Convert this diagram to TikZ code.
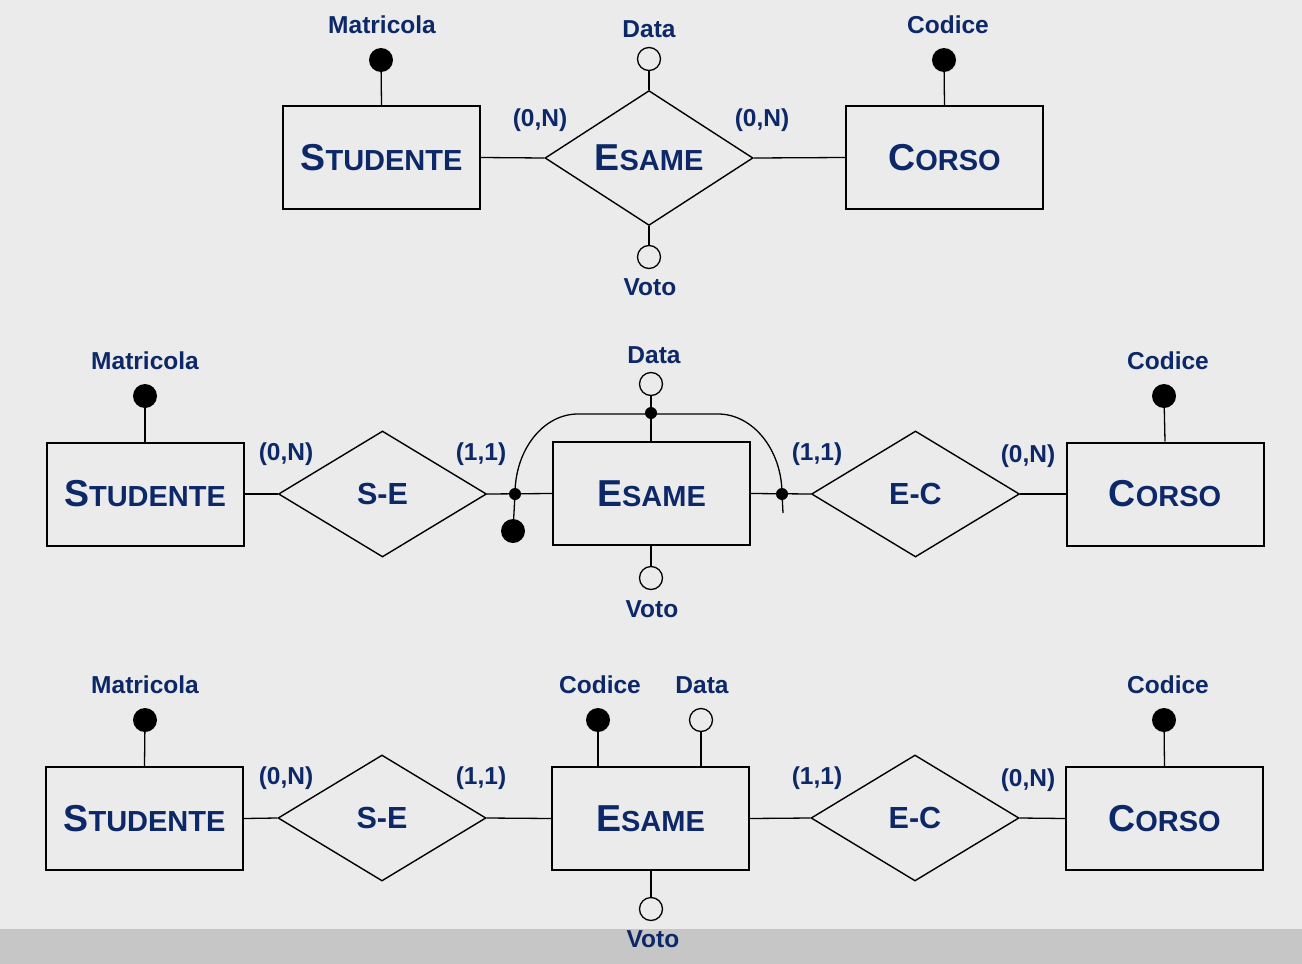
\documentclass[tikz,border=0pt]{standalone}
\usepackage{fontspec}
\setmainfont{Liberation Sans}
\usetikzlibrary{shapes.geometric}
\definecolor{navy}{RGB}{12,40,104}
\definecolor{bg}{RGB}{235,235,235}
\definecolor{band}{RGB}{198,198,198}
\newcommand{\scname}[2]{\raisebox{-4pt}{{\fontsize{37.5}{40}\selectfont #1}{\fontsize{29}{30}\selectfont #2}}}
\begin{document}
\begin{tikzpicture}[x=1pt,y=-1pt,
  every node/.style={text=navy},
  ent/.style={draw=black, line width=2pt, minimum width=197pt, minimum height=103pt, inner sep=0pt, font=\bfseries},
  rel/.style={diamond, draw=black, line width=1.4pt, minimum width=208pt, minimum height=126pt, inner sep=0pt, font=\bfseries\fontsize{30.5}{32}\selectfont},
  keyattr/.style={circle, fill=black, minimum size=24pt, inner sep=0pt},
  attr/.style={circle, draw=black, line width=1.3pt, fill=bg, minimum size=23pt, inner sep=0pt},
  dotn/.style={circle, fill=black, minimum size=12pt, inner sep=0pt},
  lbl/.style={font=\bfseries\fontsize{24.5}{26}\selectfont, inner sep=0pt},
  link/.style={line width=1.3pt, draw=black}]
\fill[bg] (0,0) rectangle (1302,964);
\fill[band] (0,929) rectangle (1302,964);
\useasboundingbox (0,0) rectangle (1302,964);

% ---------- top row ----------
\node[ent] (st1) at (381.5,157.5) {\scname{S}{TUDENTE}};
\node[rel] (es1) at (649,158) {\scname{E}{SAME}};
\node[ent] (co1) at (944.5,157.5) {\scname{C}{ORSO}};
\node[keyattr] (ma1c) at (381,60) {};
\node[attr] (da1c) at (649,59) {};
\node[attr] (vo1c) at (649,257) {};
\node[keyattr] (cd1c) at (944,60) {};
\node[lbl] (ma1t) at (382,25) {Matricola};
\node[lbl] (da1t) at (649,29) {Data};
\node[lbl] (vo1t) at (650,287) {Voto};
\node[lbl] (cd1t) at (948,25) {Codice};
\node[lbl] (c1a) at (540,120) {(0,N)};
\node[lbl] (c1b) at (762,120) {(0,N)};
\draw[link] (st1.east) -- (es1.west);
\draw[link] (es1.east) -- (co1.west);
\draw[link] (ma1c) -- (st1.north);
\draw[link] (da1c) -- (es1.north);
\draw[link] (vo1c) -- (es1.south);
\draw[link] (cd1c) -- (co1.north);

% ---------- middle row ----------
\node[ent] (st2) at (145,494) {\scname{S}{TUDENTE}};
\node[rel] (se2) at (382.5,494) {\raisebox{-1pt}{S-E}};
\node[ent] (es2) at (651.5,493.5) {\scname{E}{SAME}};
\node[rel] (ec2) at (915.5,494) {\raisebox{-1pt}{E-C}};
\node[ent] (co2) at (1165,494) {\scname{C}{ORSO}};
\node[keyattr] (ma2c) at (145,396) {};
\node[attr] (da2c) at (651,384) {};
\node[attr] (vo2c) at (651,578) {};
\node[keyattr] (cd2c) at (1164,396) {};
\node[lbl] (ma2t) at (145,361) {Matricola};
\node[lbl] (da2t) at (654,355) {Data};
\node[lbl] (vo2t) at (652,609) {Voto};
\node[lbl] (cd2t) at (1168,361) {Codice};
\node[lbl] (c2a) at (286,454) {(0,N)};
\node[lbl] (c2b) at (481,454) {(1,1)};
\node[lbl] (c2c) at (817,454) {(1,1)};
\node[lbl] (c2d) at (1028,456) {(0,N)};
\draw[link] (st2.east) -- (se2.west);
\draw[link] (se2.east) -- (es2.west);
\draw[link] (es2.east) -- (ec2.west);
\draw[link] (ec2.east) -- (co2.west);
\draw[link] (ma2c) -- (st2.north);
\draw[link] (cd2c) -- (co2.north);
\draw[link] (da2c) -- (da2c |- es2.north);
\draw[link] (vo2c) -- (vo2c |- es2.south);
% external identifier
\coordinate (tl) at (578,414);
\coordinate (tr) at (718,414);
\coordinate (tail) at (783,513);
\node[dotn] (dl) at (515,494) {};
\node[dotn] (dr) at (782,494) {};
\node[dotn] (dt) at (651,413) {};
\node[keyattr] (idk) at (513,531) {};
\draw[link] (dl.center) .. controls (515,450) and (543,414) .. (tl) -- (tr)
  .. controls (753,414) and (782,450) .. (dr.center) -- (tail);
\draw[link] (dl.center) -- (idk.center);

% ---------- bottom row ----------
\node[ent] (st3) at (144.5,818.5) {\scname{S}{TUDENTE}};
\node[rel] (se3) at (382,818) {\raisebox{-1pt}{S-E}};
\node[ent] (es3) at (650.5,818.5) {\scname{E}{SAME}};
\node[rel] (ec3) at (915,818) {\raisebox{-1pt}{E-C}};
\node[ent] (co3) at (1164.5,818.5) {\scname{C}{ORSO}};
\node[keyattr] (ma3c) at (145,720) {};
\node[keyattr] (cd3c) at (598,720) {};
\node[attr] (da3c) at (701,720) {};
\node[attr] (vo3c) at (651,909) {};
\node[keyattr] (cc3c) at (1164,720) {};
\node[lbl] (ma3t) at (145,685) {Matricola};
\node[lbl] (cd3t) at (600,685) {Codice};
\node[lbl] (da3t) at (702,685) {Data};
\node[lbl] (vo3t) at (653,939) {Voto};
\node[lbl] (cc3t) at (1168,685) {Codice};
\node[lbl] (c3a) at (286,778) {(0,N)};
\node[lbl] (c3b) at (481,778) {(1,1)};
\node[lbl] (c3c) at (817,778) {(1,1)};
\node[lbl] (c3d) at (1028,780) {(0,N)};
\draw[link] (st3.east) -- (se3.west);
\draw[link] (se3.east) -- (es3.west);
\draw[link] (es3.east) -- (ec3.west);
\draw[link] (ec3.east) -- (co3.west);
\draw[link] (ma3c) -- (st3.north);
\draw[link] (cc3c) -- (co3.north);
\draw[link] (cd3c) -- (cd3c |- es3.north);
\draw[link] (da3c) -- (da3c |- es3.north);
\draw[link] (vo3c) -- (vo3c |- es3.south);
\end{tikzpicture}
\end{document}
